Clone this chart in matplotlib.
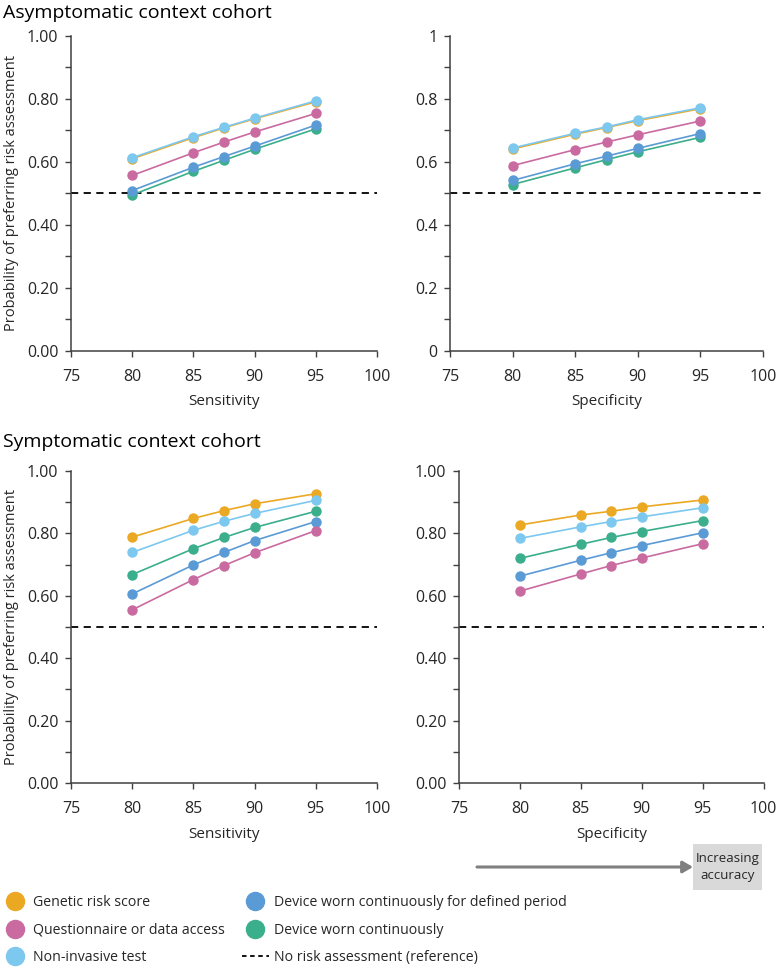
import matplotlib
matplotlib.use('Agg')
import matplotlib.pyplot as plt
from matplotlib.lines import Line2D
from matplotlib.patches import FancyArrowPatch, Rectangle
from matplotlib.ticker import MultipleLocator, FormatStrFormatter

plt.rcParams['font.family'] = ['Open Sans', 'DejaVu Sans']

W, H = 780, 969

# accuracy levels tested (x axis)
levels = [80, 85, 87.5, 90, 95]

series_names = ['Genetic risk score', 'Questionnaire or data access', 'Non-invasive test',
                'Device worn continuously for defined period', 'Device worn continuously']
colors = ['#EBA823', '#C96BA0', '#7DC8EF', '#5A9BD5', '#3BAE8C']

# asymptomatic cohort
asym_sens = {
    'Genetic risk score': [0.610, 0.677, 0.708, 0.737, 0.791],
    'Questionnaire or data access': [0.557, 0.629, 0.663, 0.695, 0.754],
    'Non-invasive test': [0.613, 0.680, 0.710, 0.739, 0.794],
    'Device worn continuously for defined period': [0.509, 0.583, 0.617, 0.650, 0.717],
    'Device worn continuously': [0.495, 0.570, 0.605, 0.640, 0.705],
}
asym_spec = {
    'Genetic risk score': [0.641, 0.688, 0.709, 0.731, 0.769],
    'Questionnaire or data access': [0.588, 0.639, 0.663, 0.686, 0.730],
    'Non-invasive test': [0.644, 0.691, 0.711, 0.734, 0.772],
    'Device worn continuously for defined period': [0.541, 0.594, 0.618, 0.643, 0.690],
    'Device worn continuously': [0.528, 0.581, 0.607, 0.632, 0.678],
}
# symptomatic cohort
sym_sens = {
    'Genetic risk score': [0.788, 0.848, 0.873, 0.895, 0.927],
    'Questionnaire or data access': [0.555, 0.652, 0.697, 0.738, 0.809],
    'Non-invasive test': [0.739, 0.810, 0.839, 0.864, 0.906],
    'Device worn continuously for defined period': [0.606, 0.699, 0.739, 0.777, 0.838],
    'Device worn continuously': [0.668, 0.751, 0.787, 0.819, 0.871],
}
sym_spec = {
    'Genetic risk score': [0.827, 0.859, 0.871, 0.885, 0.907],
    'Questionnaire or data access': [0.615, 0.670, 0.697, 0.721, 0.767],
    'Non-invasive test': [0.784, 0.821, 0.838, 0.853, 0.882],
    'Device worn continuously for defined period': [0.663, 0.714, 0.738, 0.761, 0.802],
    'Device worn continuously': [0.720, 0.765, 0.787, 0.806, 0.841],
}
reference = 0.5

# draw order (later on top)
draw_order = ['Device worn continuously', 'Device worn continuously for defined period',
              'Questionnaire or data access', 'Genetic risk score', 'Non-invasive test']

fig = plt.figure(figsize=(W / 100, H / 100), dpi=100)

def px_axes(x0, x1, ytop, ybot):
    return fig.add_axes([x0 / W, 1 - ybot / H, (x1 - x0) / W, (ybot - ytop) / H])

panels = [
    (px_axes(71, 377, 36, 350.7), asym_sens, 'Sensitivity', '%.2f', True),
    (px_axes(450, 763, 36, 350.7), asym_spec, 'Specificity', '%g', False),
    (px_axes(71, 377, 471, 783), sym_sens, 'Sensitivity', '%.2f', True),
    (px_axes(459, 763.5, 471, 783), sym_spec, 'Specificity', '%.2f', False),
]

axis_col = '#404040'
for ax, data, xlabel, fmt, show_ylabel in panels:
    ax.axhline(reference, color='black', ls=(0, (4, 3)), lw=1.3, zorder=1, clip_on=False)
    for name in draw_order:
        c = colors[series_names.index(name)]
        ax.plot(levels, data[name], color=c, lw=1.2, marker='o', markersize=6.5, zorder=3)
    ax.set_xlim(75, 100)
    ax.set_ylim(0, 1)
    ax.xaxis.set_major_locator(MultipleLocator(5))
    ax.yaxis.set_major_locator(MultipleLocator(0.2))
    ax.yaxis.set_minor_locator(MultipleLocator(0.1))
    ax.yaxis.set_major_formatter(FormatStrFormatter(fmt))
    for s in ['top', 'right']:
        ax.spines[s].set_visible(False)
    for s in ['left', 'bottom']:
        ax.spines[s].set_color(axis_col)
        ax.spines[s].set_linewidth(1.1)
    ax.tick_params(axis='both', which='both', colors=axis_col, labelcolor='#262626',
                   labelsize=11.5, width=1.0)
    ax.tick_params(axis='y', which='both', direction='out', length=4, pad=5)
    ax.tick_params(axis='x', direction='out', length=4, pad=9)
    ax.set_xlabel(xlabel, fontsize=11, color='#262626', labelpad=7)
    if show_ylabel:
        ax.set_ylabel('Probability of preferring risk assessment', fontsize=10.5,
                      color='#262626', labelpad=6)

fig.text(3 / W, 1 - 13 / H, 'Asymptomatic context cohort', fontsize=14,
         va='center', ha='left', color='black')
fig.text(3 / W, 1 - 442 / H, 'Symptomatic context cohort', fontsize=14,
         va='center', ha='left', color='black')

# legend
handles = [Line2D([], [], ls='none', marker='o', markersize=13, color=c) for c in colors]
handles.append(Line2D([], [], color='black', ls=(0, (2.5, 2)), lw=1.3))
labels = series_names + ['No risk assessment (reference)']
fig.legend(handles, labels,
           loc='upper left', bbox_to_anchor=(-6 / W, 1 - 888 / H), ncol=2,
           frameon=False, fontsize=10.2, handlelength=1.9, handletextpad=0.35,
           columnspacing=1.2, labelspacing=0.88, borderpad=0, labelcolor='#262626')

# increasing accuracy arrow
arrow = FancyArrowPatch((477 / W, 1 - 867 / H), (693 / W, 1 - 867 / H),
                        transform=fig.transFigure, arrowstyle='-|>,head_length=6,head_width=3.5',
                        color='#7F7F7F', lw=2.2, shrinkA=0, shrinkB=0)
fig.add_artist(arrow)
box = Rectangle((693 / W, 1 - 890 / H), 69 / W, 46 / H, transform=fig.transFigure,
                facecolor='#D9D9D9', edgecolor='none')
fig.add_artist(box)
fig.text(727.5 / W, 1 - 867 / H, 'Increasing\naccuracy', fontsize=9.5, ha='center',
         va='center', color='#262626', linespacing=1.4)

fig.savefig('out.png', dpi=100)
